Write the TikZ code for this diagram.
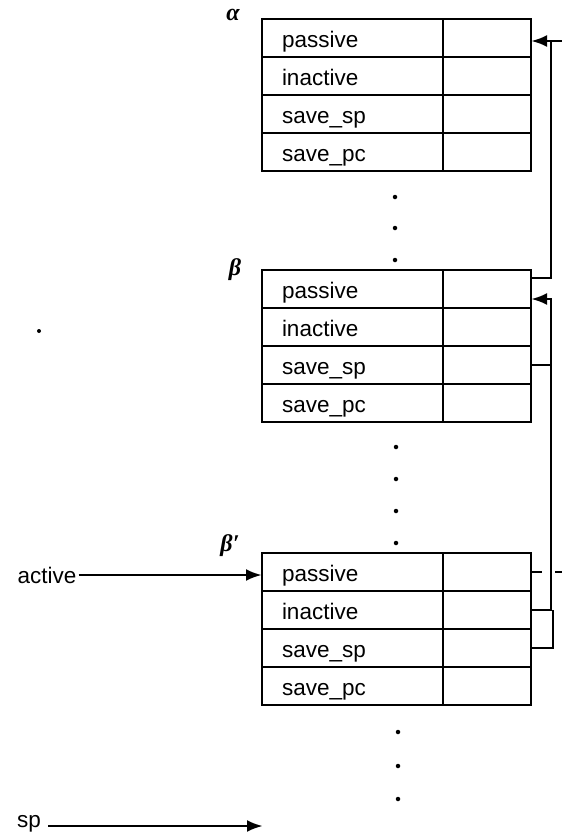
\documentclass[tikz,border=0pt]{standalone}
\usepackage{fontspec}
\setmainfont{Liberation Sans}
\newfontfamily\grk{Liberation Serif}
\usetikzlibrary{arrows.meta,calc}
\begin{document}
\begin{tikzpicture}[x=1pt,y=-1pt,
  cellL/.style={draw,line width=2.5pt,outer sep=0pt,minimum width=181pt,minimum height=38pt,
    inner xsep=20pt,inner ysep=0pt,text width=141pt,align=left,
    text height=18pt,text depth=0pt,font=\fontsize{22.5}{24}\selectfont},
  cellR/.style={draw,line width=2.5pt,outer sep=0pt,minimum width=88pt,minimum height=38pt,inner sep=0pt},
  wire/.style={line width=2.9pt},
  tip/.style={-{Latex[length=16pt,width=12pt]}},
  greek/.style={font=\fontsize{24}{26}\selectfont\grk\bfseries\itshape,inner sep=0pt},
  lbl/.style={font=\fontsize{22.5}{24}\selectfont,inner sep=0pt},
  pt/.style={circle,fill,inner sep=0pt,minimum size=4.5pt}]
\useasboundingbox (0,0) rectangle (562,835);

% boxes
\foreach \p/\y in {a/38,b/289,c/572}{
  \foreach \t [count=\i] in {passive,inactive,save\_sp,save\_pc}{
    \node[cellL] (\p\i) at (352.5,{\y+38*(\i-1)}) {\t};
    \node[cellR] (\p v\i) at (487,{\y+38*(\i-1)}) {};
  }
}

% labels
\node[greek] (la) at (233,15) {α};
\node[greek] (lb) at (235,270) {β};
\node[greek] (lc) at (230,546) {β′};

% dots
\foreach \yy [count=\k] in {197,228,260}{\node[pt] (d1\k) at (395,\yy) {};}
\foreach \yy [count=\k] in {447,479,511,543}{\node[pt] (d2\k) at (396,\yy) {};}
\foreach \yy [count=\k] in {732,766,799}{\node[pt] (d3\k) at (398,\yy) {};}
\node[pt,minimum size=4pt] (stray) at (39,331) {};

% right-side coordinates
\coordinate (colx) at (551,0);
\coordinate (colx2) at (553,0);
\coordinate (rim) at (562,0);
\coordinate (topin) at (562,41);

% beta -> alpha
\draw[wire,tip] (topin) -- ([yshift=-3pt]av1.east);
\draw[wire] ([yshift=-8pt]bv1.north east) -| (topin -| colx);

% beta' -> beta
\draw[wire,tip] (cv2.east) -| ([yshift=-10pt]bv1.east -| colx) -- ([yshift=-10pt]bv1.east);
\draw[wire] (cv3.east) -| (cv2.east -| colx2);
\draw[wire] (bv3.east) -- (bv3.east -| colx);
\draw[wire,dash pattern=on 11pt off 13pt] (cv1.east) -- (cv1.east -| rim);

% active, sp
\node[lbl] (active) at (47,575) {active};
\draw[wire,tip] ([xshift=2pt]active.east) -- (active.east -| c1.west);
\node[lbl] (sp) at (29,824) {sp};
\coordinate (spend) at (263,826);
\draw[wire,tip] ([xshift=7pt]sp.east |- spend) -- (spend);
\end{tikzpicture}
\end{document}
